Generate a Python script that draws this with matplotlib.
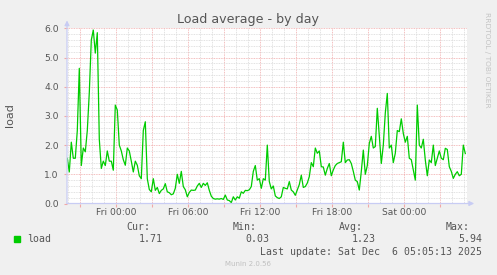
import datetime as dt
import matplotlib
matplotlib.use("Agg")
import matplotlib.pyplot as plt
import matplotlib.dates as mdates
from matplotlib.ticker import MultipleLocator, FuncFormatter
from matplotlib.patches import Rectangle

W, H = 497, 275

# --- data: 10 minute samples of the load average ---
start = dt.datetime(2025, 12, 4, 19, 55)
step_min = 10

load_thu_night = [
    1.55, 1.08, 2.1, 1.55, 1.55, 2.5, 4.63, 1.3, 1.9, 1.77,
    2.5, 3.8, 5.6, 5.94, 5.15, 5.85, 2.2, 1.2, 1.45, 1.3,
    1.8, 1.45, 1.45, 1.14, 3.37, 3.2, 2.0, 1.8, 1.5, 1.31,
    1.9, 1.8, 1.45, 1.08, 1.45, 1.31, 0.95, 0.85, 2.5, 2.8,
    0.85, 0.48, 0.4, 0.85, 0.45, 0.55, 0.34, 0.45, 0.5, 0.68,
]
load_fri_morning = [
    0.4, 0.37, 0.3, 0.33, 0.52, 1.0, 0.69, 1.1, 0.58, 0.47,
    0.23, 0.38, 0.46, 0.45, 0.46, 0.6, 0.69, 0.55, 0.69, 0.62,
    0.71, 0.45, 0.25, 0.17, 0.15, 0.16, 0.15, 0.17, 0.14, 0.29,
    0.12, 0.1, 0.03, 0.23, 0.12, 0.23, 0.18, 0.4, 0.35, 0.45,
    0.44, 0.47, 0.58, 1.1, 1.3, 0.8, 0.85, 0.52, 0.85, 0.8,
]
load_fri_afternoon = [
    2.0, 0.75, 0.5, 0.6, 0.26, 0.2, 0.17, 0.23, 0.55, 0.52,
    0.5, 0.75, 0.46, 0.4, 0.28, 0.46, 0.65, 0.97, 0.55, 0.58,
    0.7, 0.92, 1.4, 1.26, 1.9, 1.72, 1.8, 1.26, 1.25, 0.97,
    1.2, 1.37, 0.95, 1.15, 1.3, 1.37, 1.4, 1.43, 2.1, 1.4,
    1.49, 1.5, 1.37, 1.1, 0.8, 0.75, 0.46, 1.1, 1.83, 1.0,
]
load_sat_night = [
    1.3, 2.06, 2.3, 1.9, 1.95, 3.26, 2.3, 1.37, 2.0, 3.1,
    3.77, 1.9, 2.0, 1.4, 1.72, 2.5, 2.46, 2.9, 2.4, 2.1,
    2.3, 1.55, 1.5, 1.15, 0.8, 3.37, 2.0, 1.9, 2.2, 1.49,
    0.95, 1.49, 1.4, 2.0, 1.3, 1.55, 1.8, 1.55, 1.5, 1.89,
    1.85, 1.26, 1.1, 0.86, 1.0, 1.09, 0.95, 1.0, 2.0, 1.71,
]

legend_heads = ["Cur:", "Min:", "Avg:", "Max:"]
legend_vals = ["1.71", "0.03", "1.23", "5.94"]
last_update = "Last update: Sat Dec  6 05:05:13 2025"

load = load_thu_night + load_fri_morning + load_fri_afternoon + load_sat_night
times = [start + dt.timedelta(minutes=step_min * i) for i in range(len(load))]

x_min = dt.datetime(2025, 12, 4, 19, 53, 30)
x_max = x_min + dt.timedelta(minutes=2000)

# --- colours ---
BG = "#f0f0f0"
TXT = "#555555"
AXIS = "#c8ccf4"
MAJOR = "#f0a8a8"
MINOR = "#d8d8d8"
GREEN = "#00cc00"

plt.rcParams["font.family"] = "DejaVu Sans"
fig = plt.figure(figsize=(W / 100, H / 100), dpi=100, facecolor=BG)
ax = fig.add_axes([67 / W, (H - 203.5) / H, 400 / W, 175.2 / H])
ax.set_facecolor("white")

ax.plot(times, load, color=GREEN, lw=0.9, zorder=3)

ax.set_xlim(x_min, x_max)
ax.set_ylim(0, 6)

# grid
ax.xaxis.set_major_locator(mdates.HourLocator(byhour=range(0, 24, 3)))
ax.xaxis.set_minor_locator(mdates.HourLocator())
ax.yaxis.set_major_locator(MultipleLocator(1.0))
ax.yaxis.set_minor_locator(MultipleLocator(0.2))

def xlabel(v, pos):
    d = mdates.num2date(v)
    return d.strftime("%a %H:%M") if d.hour % 6 == 0 else ""

ax.xaxis.set_major_formatter(FuncFormatter(xlabel))
ax.yaxis.set_major_formatter(FuncFormatter(lambda v, p: f"{v:.1f}"))

ax.grid(which="minor", color=MINOR, linestyle=(0, (1, 1)), lw=0.6, zorder=0)
ax.grid(which="major", color=MAJOR, linestyle=(0, (1, 1)), lw=0.6, zorder=1)
ax.set_axisbelow(True)

ax.tick_params(which="major", length=2, width=0.8, color=MAJOR,
               labelsize=6.6, labelcolor=TXT, pad=1.5)
ax.tick_params(axis="y", which="major", pad=4)
ax.tick_params(which="minor", length=0)

for s in ax.spines.values():
    s.set_visible(False)

arrow = dict(arrowstyle="-|>", color=AXIS, lw=0.9, shrinkA=0, shrinkB=0,
             mutation_scale=7)
ax.annotate("", xy=(0, 1.045), xytext=(0, 0), xycoords="axes fraction",
            arrowprops=arrow, annotation_clip=False)
ax.annotate("", xy=(1.018, 0), xytext=(0, 0), xycoords="axes fraction",
            arrowprops=arrow, annotation_clip=False)

# texts
def ftext(x, y, s, **kw):
    fig.text(x / W, 1 - y / H, s, **kw)

ftext(248, 19.3, "Load average - by day", ha="center", va="center",
      fontsize=9.1, color=TXT)
ftext(10, 115, "load", ha="center", va="center", rotation=90,
      fontsize=8, color=TXT)
ftext(487.5, 60, "RRDTOOL / TOBI OETIKER", ha="center", va="center",
      rotation=270, fontsize=5.4, color="#c4c4c4")

mono = dict(family="DejaVu Sans Mono", fontsize=7.1, color=TXT, va="center")
head_x = [150.7, 257, 363, 470]
val_x = [163, 269.3, 375.7, 482.3]
for hx, hd in zip(head_x, legend_heads):
    ftext(hx, 227.3, hd, ha="right", **mono)
for vx, vv in zip(val_x, legend_vals):
    ftext(vx, 239.3, vv, ha="right", **mono)
ftext(26.7, 239.3, "load", ha="left", **mono)
ftext(482.3, 251.7, last_update, ha="right", **mono)

fig.patches.append(Rectangle((14 / W, 1 - 242.3 / H), 6 / W, 6 / H,
                             color=GREEN, transform=fig.transFigure))

ftext(248, 264, "Munin 2.0.56", ha="center", va="center",
      fontsize=5, color="#c0c0c0")

fig.savefig("out.png", dpi=100, facecolor=BG)
